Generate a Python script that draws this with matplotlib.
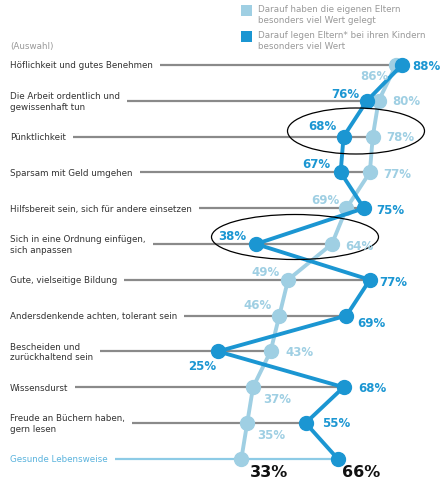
import matplotlib
matplotlib.use("Agg")
import matplotlib.pyplot as plt
from matplotlib.patches import Ellipse, Rectangle

# Werte (Prozent) von oben nach unten
labels = [
    "Höflichkeit und gutes Benehmen",
    "Die Arbeit ordentlich und\ngewissenhaft tun",
    "Pünktlichkeit",
    "Sparsam mit Geld umgehen",
    "Hilfsbereit sein, sich für andere einsetzen",
    "Sich in eine Ordnung einfügen,\nsich anpassen",
    "Gute, vielseitige Bildung",
    "Andersdenkende achten, tolerant sein",
    "Bescheiden und\nzurückhaltend sein",
    "Wissensdurst",
    "Freude an Büchern haben,\ngern lesen",
    "Gesunde Lebensweise",
]
eigene_eltern = [86, 80, 78, 77, 69, 64, 49, 46, 43, 37, 35, 33]
eltern_heute = [88, 76, 68, 67, 75, 38, 77, 69, 25, 68, 55, 66]
legend_labels = [
    "Darauf haben die eigenen Eltern\nbesonders viel Wert gelegt",
    "Darauf legen Eltern* bei ihren Kindern\nbesonders viel Wert",
]

DARK = "#1b96d2"
LIGHT = "#9fcfe3"
GRAY = "#8a8a8a"

# label offsets in pixels (x right, y up)
dark_off = [(24, 0), (-22, 7), (-21, 11), (-24, 9), (26, -1), (-24, 8),
            (23, -2), (25, -7), (-16, -14), (29, 0), (31, 0), (23, -13)]
light_off = [(-22, -10), (28, 0), (28, 0), (27, -1), (-21, 9), (27, -2),
             (-23, 8), (-22, 11), (29, 0), (24, -11), (24, -12), (28, -13)]

W, H = 442, 481
fig = plt.figure(figsize=(W / 100, H / 100), dpi=100)
ax = fig.add_axes([0, 0, 1, 1])
ax.axis("off")

# pixel -> data helpers
x0, xs = 145, 2.92
y0, ys = 66, 35.8
X = lambda px: (px - x0) / xs
Y = lambda py: (py - y0) / ys
ax.set_xlim(X(0), X(W))
ax.set_ylim(Y(H), Y(0))

rows = list(range(len(labels)))
n = len(labels)

# row labels
texts = []
for i, lab in enumerate(labels):
    col = "#5ab3dd" if i == n - 1 else "#333333"
    t = ax.text(X(10), i, lab, fontsize=6.3, color=col, va="center", ha="left",
                linespacing=1.2)
    texts.append(t)

fig.canvas.draw()
r = fig.canvas.get_renderer()
inv = ax.transData.inverted()
for i, t in enumerate(texts):
    bb = t.get_window_extent(r)
    xstart = inv.transform((bb.x1 + 7, 0))[0]
    xend = max(eigene_eltern[i], eltern_heute[i])
    col = "#8dcbe6" if i == n - 1 else GRAY
    ax.plot([xstart, xend], [i, i], color=col, lw=1.6, zorder=1,
            solid_capstyle="butt")

ax.plot(eigene_eltern, rows, color=LIGHT, lw=2.8, marker="o", ms=10,
        zorder=2)
ax.plot(eltern_heute, rows, color=DARK, lw=2.8, marker="o", ms=10,
        zorder=3)

for i in rows:
    big = i == n - 1
    ax.annotate(f"{eigene_eltern[i]}%", (eigene_eltern[i], i),
                xytext=light_off[i], textcoords="offset pixels",
                ha="center", va="center", fontweight="bold",
                fontsize=11.5 if big else 8.5,
                color="#111111" if big else LIGHT, zorder=5)
    ax.annotate(f"{eltern_heute[i]}%", (eltern_heute[i], i),
                xytext=dark_off[i], textcoords="offset pixels",
                ha="center", va="center", fontweight="bold",
                fontsize=11.5 if big else 8.5,
                color="#111111" if big else DARK, zorder=5)

# highlight ellipses
for cx, cy, ew, eh in [(356, 132, 137, 46), (295, 238, 167, 45)]:
    ax.add_patch(Ellipse((X(cx), Y(cy)), ew / xs, eh / ys, fill=False,
                         ec="black", lw=0.9, zorder=4))

# legend
ta = ax.transAxes
for k, (lab, col, py) in enumerate(zip(legend_labels, [LIGHT, DARK], [6, 32])):
    ax.add_patch(Rectangle((241 / W, 1 - (py + 11) / H), 11 / W, 11 / H,
                           transform=ta, color=col, lw=0))
    ax.text(258 / W, 1 - (py - 1) / H, lab, transform=ta, fontsize=6.3,
            color="#999999", va="top", ha="left", linespacing=1.25)

ax.text(10 / W, 1 - 47 / H, "(Auswahl)", transform=ta, fontsize=6.3,
        color="#999999", va="center", ha="left")

fig.savefig("out.png", dpi=100)
